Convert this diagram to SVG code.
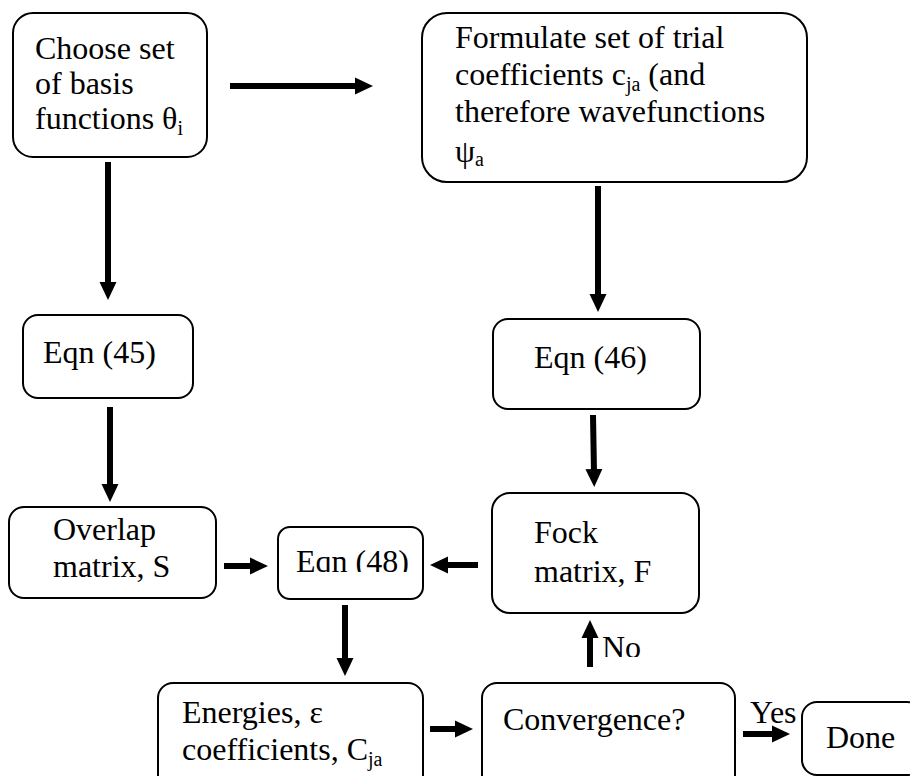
<svg xmlns="http://www.w3.org/2000/svg" width="910" height="776" viewBox="0 0 910 776">
<style>
.box{fill:#fff;stroke:#000;stroke-width:2}
.t{font-size:32px;fill:#000}
.s{font-size:20px}
.c{stroke:#000;stroke-width:6;fill:none;marker-end:url(#ah)}
</style>
<defs>
<marker id="ah" markerUnits="userSpaceOnUse" markerWidth="18" markerHeight="18" refX="4" refY="9" orient="auto">
<path d="M0,0.5 L18,9 L0,17.5 z" fill="#000"/>
</marker>
<clipPath id="clip48"><rect x="280" y="529" width="142" height="43"/></clipPath>
<clipPath id="clipNo"><rect x="598" y="620" width="60" height="37"/></clipPath>
</defs>
<rect width="910" height="776" fill="#fff"/>
<g id="connectors">
<path class="c" d="M230,86 H359"/>
<path class="c" d="M108,162 V286"/>
<path class="c" d="M598,186 V298"/>
<path class="c" d="M110,407 V488"/>
<path class="c" d="M593,415 L594,473"/>
<path class="c" d="M224,566 H254"/>
<path class="c" d="M478,565 H444"/>
<path class="c" d="M345,605 V662"/>
<path class="c" d="M430,729 H459"/>
<path class="c" d="M590,667 V634"/>
<path class="c" d="M743,734 H776"/>
</g>
<g font-family="Liberation Serif, Tinos, Times New Roman, DejaVu Serif, serif">
<g id="basis">
<rect class="box" x="13" y="13" width="194" height="144" rx="20"/>
<text class="t" x="35" y="59">Choose set</text>
<text class="t" x="35" y="94">of basis</text>
<text class="t" x="35" y="129">functions θ<tspan class="s" dy="6">i</tspan></text>
</g>
<g id="trial">
<rect class="box" x="422" y="13" width="385" height="169" rx="25"/>
<text class="t" x="455" y="48">Formulate set of trial</text>
<text class="t" x="455" y="85">coefficients c<tspan class="s" dy="6">ja</tspan><tspan dy="-6"> (and</tspan></text>
<text class="t" x="455" y="122">therefore wavefunctions</text>
<text class="t" x="455" y="162">ψ<tspan class="s" dy="4">a</tspan></text>
</g>
<g id="eqn45">
<rect class="box" x="23" y="315" width="170" height="83" rx="15"/>
<text class="t" x="43" y="363">Eqn (45)</text>
</g>
<g id="eqn46">
<rect class="box" x="493" y="319" width="207" height="90" rx="15"/>
<text class="t" x="534" y="368">Eqn (46)</text>
</g>
<g id="overlap">
<rect class="box" x="9" y="507" width="207" height="91" rx="15"/>
<text class="t" x="53" y="540">Overlap</text>
<text class="t" x="53" y="577">matrix, S</text>
</g>
<g id="eqn48">
<rect class="box" x="278" y="527" width="145" height="72" rx="12"/>
<text class="t" x="296" y="572" clip-path="url(#clip48)">Eqn (48)</text>
</g>
<g id="fock">
<rect class="box" x="492" y="493" width="207" height="120" rx="18"/>
<text class="t" x="534" y="543">Fock</text>
<text class="t" x="534" y="582">matrix, F</text>
</g>
<g id="energies">
<rect class="box" x="158" y="683" width="265" height="110" rx="15"/>
<text class="t" x="182" y="723">Energies, ε</text>
<text class="t" x="182" y="760">coefficients, C<tspan class="s" dy="6">ja</tspan></text>
</g>
<g id="convergence">
<rect class="box" x="482" y="683" width="253" height="110" rx="15"/>
<text class="t" x="503" y="730">Convergence?</text>
</g>
<g id="labels">
<text class="t" x="602" y="658" clip-path="url(#clipNo)">No</text>
<text class="t" x="750" y="723" font-size="26">Yes</text>
</g>
<g id="done">
<rect class="box" x="802" y="702" width="120" height="73" rx="15"/>
<text class="t" x="826" y="748">Done</text>
</g>
</g>
</svg>
